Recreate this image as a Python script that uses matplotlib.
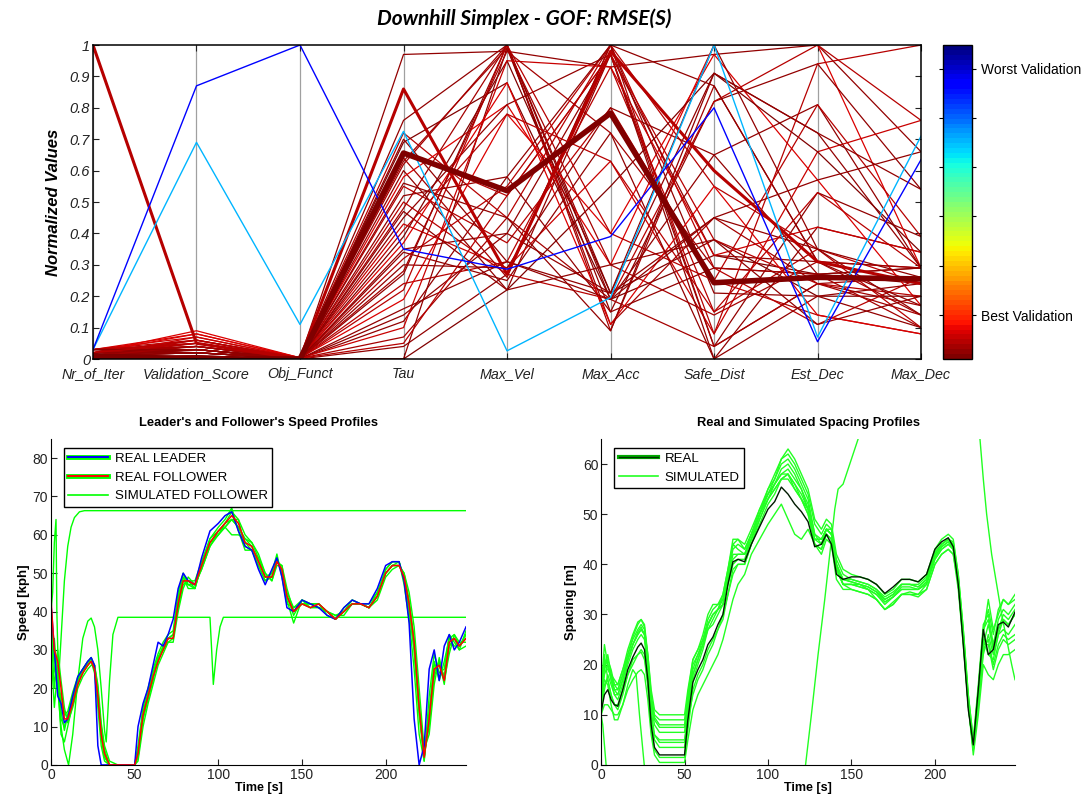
import numpy as np
import matplotlib
matplotlib.use("Agg")
import matplotlib.pyplot as plt
from matplotlib.colors import ListedColormap, Normalize
from matplotlib.lines import Line2D
from matplotlib.legend_handler import HandlerTuple
import matplotlib as mpl

plt.rcParams['font.family'] = ['Liberation Sans', 'DejaVu Sans']

# ---------------- top panel: parallel coordinates ----------------
axis_names = ["Nr_of_Iter", "Validation_Score", "Obj_Funct", "Tau", "Max_Vel",
              "Max_Acc", "Safe_Dist", "Est_Dec", "Max_Dec"]

# each row: Nr_of_Iter, Validation_Score, Obj_Funct, Tau, Max_Vel, Max_Acc, Safe_Dist, Est_Dec, Max_Dec
runs_red = [
    [0.02, 0.03, 0.002, 0.97, 0.98, 0.93, 0.97, 1.00, 0.66],
    [0.01, 0.02, 0.001, 0.76, 1.00, 0.21, 0.91, 0.72, 0.29],
    [0.03, 0.06, 0.003, 0.72, 0.45, 1.00, 0.55, 0.35, 0.10],
    [0.00, 0.01, 0.000, 0.69, 0.88, 0.19, 0.33, 0.27, 0.24],
    [0.02, 0.04, 0.002, 0.62, 1.00, 0.09, 0.87, 0.31, 0.14],
    [0.01, 0.03, 0.001, 0.60, 0.22, 0.97, 0.04, 0.53, 0.39],
    [0.03, 0.08, 0.004, 0.58, 0.81, 0.30, 1.00, 1.00, 0.29],
    [0.02, 0.05, 0.002, 0.55, 0.37, 0.80, 0.25, 0.14, 0.08],
    [0.01, 0.02, 0.001, 0.52, 0.58, 0.15, 0.82, 0.94, 0.54],
    [0.02, 0.04, 0.001, 0.48, 1.00, 0.11, 0.45, 0.24, 0.17],
    [0.03, 0.07, 0.003, 0.43, 0.29, 0.63, 0.08, 0.66, 0.76],
    [0.01, 0.01, 0.000, 0.39, 0.95, 0.21, 0.38, 0.20, 0.20],
    [0.02, 0.03, 0.001, 0.34, 0.25, 0.72, 0.00, 0.42, 0.34],
    [0.02, 0.06, 0.002, 0.32, 0.55, 1.00, 0.29, 0.11, 0.26],
    [0.01, 0.02, 0.001, 0.27, 1.00, 0.19, 0.65, 0.81, 0.29],
    [0.03, 0.05, 0.002, 0.24, 0.31, 0.93, 0.15, 0.35, 0.24],
    [0.02, 0.09, 0.004, 0.19, 0.78, 0.40, 0.97, 0.57, 0.17],
    [0.01, 0.03, 0.001, 0.14, 0.40, 0.97, 0.33, 0.31, 0.29],
    [0.02, 0.04, 0.002, 0.07, 0.45, 0.19, 0.04, 0.24, 0.14],
    [0.03, 0.02, 0.000, 0.04, 0.27, 1.00, 0.21, 0.20, 0.10],
    [0.00, 0.01, 0.000, 0.00, 0.22, 0.55, 0.91, 0.66, 0.34],
    [0.02, 0.03, 0.001, 0.00, 0.99, 0.15, 0.29, 0.27, 0.29],
    [0.01, 0.05, 0.002, 0.66, 0.52, 0.97, 0.38, 0.24, 0.20],
    [0.02, 0.02, 0.001, 0.70, 0.31, 0.21, 0.45, 0.35, 0.26],
    [0.03, 0.04, 0.002, 0.63, 0.99, 0.30, 0.14, 0.31, 0.29],
    [0.01, 0.06, 0.003, 0.50, 0.27, 0.19, 0.82, 1.00, 0.76],
    [0.02, 0.03, 0.001, 0.45, 0.81, 0.97, 0.00, 0.20, 0.24],
    [0.02, 0.08, 0.004, 0.37, 0.88, 0.11, 0.55, 0.14, 0.08],
    [0.01, 0.02, 0.001, 0.30, 0.29, 0.80, 0.65, 0.27, 0.29],
    [0.03, 0.05, 0.002, 0.22, 1.00, 0.40, 0.25, 0.81, 0.39],
    [0.02, 0.03, 0.001, 0.12, 0.58, 1.00, 0.87, 0.31, 0.17],
    [0.01, 0.07, 0.003, 0.10, 0.95, 0.93, 0.33, 0.42, 0.34],
    [0.02, 0.04, 0.002, 0.64, 0.26, 1.00, 0.04, 0.24, 0.26],
    [0.03, 0.02, 0.001, 0.56, 0.45, 0.09, 0.91, 0.72, 0.54],
    [0.01, 0.03, 0.001, 0.47, 0.22, 0.30, 0.38, 0.11, 0.20],
    [0.02, 0.06, 0.002, 0.41, 0.78, 0.63, 0.15, 0.53, 0.29],
    [0.02, 0.02, 0.001, 0.35, 0.40, 0.21, 1.00, 0.35, 0.14],
    [0.01, 0.04, 0.002, 0.28, 0.98, 0.72, 0.29, 0.27, 0.10],
    [0.03, 0.03, 0.001, 0.16, 0.31, 0.19, 0.45, 0.57, 0.66],
    [0.02, 0.05, 0.002, 0.05, 0.52, 0.97, 0.08, 0.94, 1.00],
]
run_max_iter = [1.00, 0.05, 0.001, 0.86, 0.27, 0.98, 0.60, 0.31, 0.24]
run_cyan = [0.03, 0.69, 0.11, 0.725, 0.026, 0.196, 1.00, 0.07, 0.71]
run_blue = [0.03, 0.87, 1.00, 0.35, 0.286, 0.39, 0.80, 0.055, 0.635]
run_best = [0.01, 0.00, 0.00, 0.656, 0.536, 0.783, 0.243, 0.26, 0.255]

cb_ticks = [0.14, 0.297, 0.454, 0.611, 0.768, 0.924]
cb_labels = ["Best Validation", "", "", "", "", "Worst Validation"]

# ---------------- bottom panels ----------------
t = [0, 2, 4, 6, 8, 10, 13, 16, 19, 22, 24, 26, 28, 30, 32, 35, 40, 45, 50, 52,
     55, 58, 61, 64, 67, 70, 73, 76, 79, 82, 86, 90, 95, 100, 104, 108, 112, 116, 120, 124,
     128, 132, 135, 138, 141, 145, 150, 155, 160, 165, 170, 175, 180, 185, 190, 195, 200, 204, 208, 211,
     214, 217, 220, 223, 226, 229, 232, 235, 238, 241, 244, 248]

leader_speed = [42, 30, 18, 16, 11, 12, 18, 23, 25, 27, 28, 26, 5, 0, 0, 0, 0, 0, 0, 10,
                16, 20, 26, 32, 31, 34, 38, 46, 50, 48, 47, 54, 61, 63, 65, 66, 61, 57, 56, 51,
                47, 51, 54, 49, 41, 40, 43, 42, 41, 39, 38, 41, 43, 42, 42, 46, 52, 53, 53, 48,
                37, 12, 0, 5, 25, 30, 22, 31, 34, 30, 32, 36]
follower_speed = [43, 30, 27, 20, 12, 12, 16, 21, 24, 26, 27, 25, 18, 8, 3, 0, 0, 0, 0, 3,
                  13, 18, 23, 27, 30, 33, 33, 42, 48, 48, 47, 52, 58, 61, 63, 65, 63, 58, 57, 53,
                  49, 49, 53, 51, 44, 40, 42, 41, 42, 40, 38, 40, 42, 42, 41, 44, 50, 52, 52, 49,
                  42, 32, 15, 2, 12, 25, 26, 22, 32, 33, 31, 33]
sim_speed = [
    [40, 25, 20, 18, 13, 14, 19, 23, 25, 27, 27, 24, 15, 5, 1, 0, 0, 0, 0, 5,
     15, 20, 25, 29, 32, 34, 35, 45, 50, 47, 46, 53, 59, 62, 64, 67, 61, 56, 56, 52,
     48, 50, 55, 49, 42, 41, 43, 42, 42, 40, 38, 41, 43, 42, 42, 45, 51, 53, 53, 47,
     38, 25, 8, 1, 18, 29, 24, 25, 34, 32, 30, 35],
    [35, 20, 30, 22, 15, 11, 15, 20, 23, 25, 26, 26, 21, 11, 5, 1, 0, 0, 0, 1,
     10, 16, 21, 26, 29, 32, 32, 40, 46, 49, 47, 51, 57, 60, 62, 64, 64, 60, 58, 55,
     50, 48, 52, 52, 46, 40, 42, 41, 41, 40, 39, 39, 42, 42, 41, 43, 49, 51, 52, 50,
     45, 36, 20, 4, 8, 21, 28, 22, 29, 34, 32, 32],
    [30, 15, 25, 12, 10, 13, 17, 22, 24, 26, 28, 25, 17, 7, 2, 0, 0, 0, 0, 4,
     14, 19, 24, 28, 31, 33, 34, 43, 49, 46, 46, 52, 59, 61, 62, 60, 60, 59, 57, 53,
     49, 50, 54, 50, 43, 37, 43, 42, 41, 40, 38, 40, 43, 42, 41, 44, 50, 52, 53, 49,
     41, 30, 13, 1, 14, 27, 22, 27, 33, 31, 31, 34],
    [28, 33, 22, 8, 6, 10, 16, 21, 24, 27, 27, 26, 20, 9, 3, 0, 0, 0, 0, 2,
     12, 17, 22, 28, 30, 32, 33, 41, 47, 48, 48, 53, 58, 60, 63, 66, 64, 57, 56, 54,
     49, 49, 53, 51, 45, 41, 42, 42, 42, 40, 38, 40, 42, 42, 41, 44, 50, 52, 52, 50,
     43, 33, 16, 3, 10, 23, 27, 21, 31, 33, 30, 31],
    [38, 28, 24, 16, 14, 12, 17, 22, 25, 26, 27, 25, 19, 10, 4, 0, 0, 0, 0, 2,
     12, 18, 23, 27, 31, 33, 33, 44, 49, 48, 46, 52, 58, 60, 62, 64, 62, 59, 58, 54,
     50, 48, 53, 52, 44, 39, 43, 41, 42, 39, 38, 40, 42, 42, 41, 44, 51, 53, 53, 48,
     40, 30, 14, 2, 12, 24, 27, 23, 33, 34, 31, 34],
    [25, 22, 26, 14, 9, 13, 18, 22, 25, 27, 28, 26, 19, 8, 2, 0, 0, 0, 0, 3,
     14, 18, 24, 28, 30, 33, 34, 42, 48, 47, 47, 51, 57, 61, 63, 64, 62, 58, 56, 52,
     48, 49, 54, 50, 44, 40, 42, 42, 41, 40, 39, 40, 42, 42, 41, 45, 50, 52, 52, 49,
     42, 31, 15, 2, 13, 26, 26, 22, 31, 33, 31, 33],
]
# two runs that drift away from the others
odd_a_t = [0, 1, 2, 3, 3.5, 4.5, 6, 8, 10, 12, 14, 17, 20, 248]
odd_a_v = [40, 45, 58, 64, 40, 22, 33, 48, 57, 62, 64.5, 66, 66.3, 66.3]
odd_b_t = [0, 2, 4, 6, 8, 10.5, 13, 16, 19, 22, 24, 26, 28, 30, 32, 33, 35, 37, 40,
           95, 96, 97, 99, 101, 103, 248]
odd_b_v = [38, 30, 20, 10, 4, 0, 8, 22, 33, 37.5, 38.3, 36, 30, 20, 9, 6, 22, 34, 38.5,
           38.5, 30, 21, 30, 36, 38.5, 38.5]

real_spacing = [10.5, 14, 15, 13, 12, 11.7, 15, 19, 21.5, 23.5, 24.3, 23, 17, 8, 3.5, 2, 2, 2, 2, 9,
                16.5, 19, 21, 24, 25.5, 28, 30, 36, 40.5, 41, 40.5, 44, 47.5, 51, 52.5, 55.4, 54, 52, 50.5, 48.5,
                43.5, 44, 46, 44, 38, 37, 37.5, 37.5, 37, 36, 34.2, 35.5, 37, 37, 36.5, 38, 43, 44.5, 45.3, 43.5,
                36, 24, 11, 4, 15, 27, 22, 23, 28, 28.5, 27.5, 30.5]
sim_spacing = [
    [10, 12, 12, 11, 10, 10, 12, 15, 17, 18.5, 19, 18, 13, 6, 2, 0.5, 0.5, 0.5, 0.5, 5,
     11, 14, 16, 18, 20, 22, 25, 29, 33, 36, 38, 42, 45, 48, 50, 52, 49, 46, 45, 47,
     44, 42, 45, 44, 37, 35, 35, 34.5, 34, 33, 31, 32.5, 34, 34, 34, 35, 40, 42, 43, 42,
     35, 24, 12, 2, 10, 20, 18, 17, 20, 22, 22, 23],
    [12, 18, 20, 17, 14, 13, 16, 20, 23, 25, 26, 25, 19, 10, 5, 3.5, 3.5, 3.5, 3.5, 10,
     17, 20, 23, 27, 28, 30, 32, 38, 43, 44, 43, 46, 50, 54, 56, 58, 59, 57, 55, 52,
     46, 45, 47, 46, 40, 37, 36.5, 36, 35.5, 34.5, 33, 34, 36, 36, 35.5, 37, 42, 44, 45, 44,
     37, 25, 12, 4, 14, 25, 22, 21, 26, 27, 26, 28],
    [9, 22, 17, 14, 12, 12, 15, 18, 21, 22, 22.5, 21, 16, 9, 6, 5, 5, 5, 5, 9,
     14, 17, 19, 22, 24, 27, 30, 34, 38, 40, 40, 44, 49, 53, 56, 59, 60, 58, 55, 51,
     44, 43, 46, 45, 39, 36, 36, 35.5, 35, 34, 32, 33.5, 35, 35, 35, 36, 41, 43, 44, 43,
     36, 25, 13, 3, 12, 23, 25, 20, 24, 26, 25, 26],
    [11, 15, 18, 16, 14, 14, 17, 21, 24, 26.5, 27.5, 26, 20, 12, 8, 6.5, 6.5, 6.5, 6.5, 12,
     18, 21, 24, 28, 30, 31, 34, 39, 44, 43, 42, 46, 51, 55, 57, 60, 61, 59, 56, 53,
     46, 44, 47, 47, 41, 38, 37, 36.5, 36, 35, 33.5, 34.5, 36, 36, 36, 37.5, 42.5, 44, 45, 44.5,
     38, 27, 14, 5, 16, 28, 30, 24, 29, 31, 30, 32],
    [14, 20, 21, 19, 16, 15, 18, 22, 25.5, 28, 29, 27.5, 21, 13, 9.5, 8, 8, 8, 8, 13,
     20, 22, 25, 29, 31, 32, 33, 37, 42, 42, 42, 45, 50, 54, 57, 61, 62, 60, 57, 54,
     48, 46, 48, 47, 40, 36, 36, 36, 35, 33, 31, 32, 34, 34.5, 34, 36, 41, 43, 44, 43,
     37, 26, 13, 4, 13, 24, 28, 23, 27, 30, 29, 31],
    [17, 20, 19, 18, 17, 16, 19, 22, 25, 27, 28, 27, 22, 15, 11, 10, 10, 10, 10, 15,
     21, 23, 25, 28, 30, 31, 33, 38, 44, 45, 44, 47, 51, 54, 56, 58, 58, 56, 54, 51,
     45, 45, 47, 46, 39, 37, 37, 36.5, 36, 35, 33, 34, 36, 36, 35.5, 37, 42, 44, 45, 44,
     37, 26, 12, 3, 14, 26, 33, 27, 30, 33, 32, 34],
    [11, 16, 17, 14, 12, 11, 14, 18, 20, 22, 23, 22, 16, 7, 3, 1.5, 1.5, 1.5, 1.5, 7,
     15, 18, 20, 23, 25, 27, 29, 34, 39, 40, 40, 44, 48, 52, 54, 57, 58, 55, 53, 50,
     44, 43, 46, 45, 39, 36, 36, 35.5, 35, 34, 32.5, 33.5, 35, 35, 35, 36.5, 41.5, 43.5, 44.5, 43,
     36, 25, 12, 3, 13, 24, 24, 19, 23, 25, 24, 25],
    [13, 19, 22, 18, 15, 14, 17, 21, 24, 26, 27, 26, 20, 11, 6, 4.5, 4.5, 4.5, 4.5, 11,
     18, 21, 24, 27, 29, 31, 32, 37, 41, 42, 42, 45, 49, 53, 55, 57, 58, 56, 53, 51,
     45, 45, 47, 46, 40, 37, 36.5, 36, 35.5, 34.5, 32.5, 33.5, 35.5, 35.5, 35, 36.5, 41.5, 43.5, 44.5, 43.5,
     37, 26, 13, 4, 15, 27, 29, 23, 27, 29, 28, 30],
    [15, 24, 20, 17, 15, 15, 18, 21, 24, 26, 27, 26, 21, 13, 9, 7.5, 7.5, 7.5, 7.5, 13,
     19, 22, 24, 28, 30, 31, 32, 36, 40, 41, 41, 45, 50, 55, 58, 61, 63, 61, 58, 55,
     49, 47, 49, 48, 42, 39, 38, 37.5, 37, 36, 34, 35, 37, 37, 36.5, 38, 43, 45, 46, 45,
     38, 27, 14, 5, 15, 27, 31, 26, 31, 33, 32, 33],
    [16, 21, 20, 18, 16, 16, 19, 23, 26, 28.5, 29, 28, 22, 14, 10, 9, 9, 9, 9, 14,
     21, 23, 26, 30, 32, 32, 34, 39, 45, 45, 43, 46, 50, 53, 55, 57, 57, 55, 53, 50,
     45, 44, 47, 46, 39, 36, 35, 34.5, 34, 33, 31, 32, 34, 34, 33.5, 35, 40, 42, 43, 42,
     36, 25, 12, 3, 12, 22, 26, 22, 26, 29, 28, 30],
]
odd_s1_t = [0, 1, 2, 3, 4]
odd_s1_v = [10, 8, 4, 0, -4]
odd_s2_t = [0, 2, 4, 6, 8, 10, 13, 16, 19, 21, 23, 25, 27]
odd_s2_v = [13, 17, 16, 12, 9, 9, 12, 16, 19, 18, 10, 3, -4]
odd_s3_t = [120, 122.5, 126, 130, 134, 137, 140, 142, 145, 150, 154, 156]
odd_s3_v = [-5, 0, 10, 22, 33, 42, 51, 55, 56, 61, 65, 68]
odd_s4_t = [226, 227, 229, 231, 234, 237, 240, 243, 246, 248]
odd_s4_v = [70, 65, 57, 50, 42, 36, 30, 25, 20, 17]

# ---------------- figure ----------------
fig = plt.figure(figsize=(10.85, 8.01), dpi=100)
fig.text(0.483, 0.977, "Downhill Simplex - GOF: RMSE(S)", family=['Lato', 'DejaVu Sans'],
         weight='bold', style='italic', size=15, ha='center', va='center')

jet = ListedColormap(plt.cm.jet(np.linspace(0, 1, 64))[::-1])
xpos = np.arange(1, len(axis_names) + 1)

ax = fig.add_axes([0.0857, 0.5518, 0.7632, 0.392])
for r in runs_red:
    ax.plot(xpos, r, color=jet(r[1]), lw=0.9)
ax.plot(xpos, run_max_iter, color=jet(run_max_iter[1]), lw=2.2)
ax.plot(xpos, run_cyan, color=jet(run_cyan[1]), lw=1.0)
ax.plot(xpos, run_blue, color=jet(run_blue[1]), lw=1.0)
ax.plot(xpos, run_best, color=jet(run_best[1]), lw=4)
ax.set_xlim(1, len(axis_names))
ax.set_ylim(0, 1)
ax.set_xticks(xpos)
ax.set_xticklabels(axis_names, fontstyle='italic', fontsize=10.3)
yt = np.arange(0, 1.01, 0.1)
ax.set_yticks(yt)
ax.set_yticklabels(["0"] + ["%.1f" % v for v in yt[1:-1]] + ["1"], fontstyle='italic', fontsize=10.5)
ax.grid(axis='x', color='#a0a0a0', lw=0.9)
ax.tick_params(direction='in', top=True, right=True, length=4, pad=2, colors='#222222')
ax.tick_params(axis='x', pad=6)
ax.set_ylabel("Normalized Values", fontsize=12, weight='bold', style='italic', labelpad=6)
for s in ax.spines.values():
    s.set_linewidth(1.1)

cax = fig.add_axes([0.869, 0.5518, 0.027, 0.392])
cb = mpl.colorbar.ColorbarBase(cax, cmap=jet, norm=Normalize(0, 1))
cb.set_ticks(cb_ticks)
cb.set_ticklabels(cb_labels)
cb.outline.set_linewidth(1)
cax.tick_params(left=True, right=True, direction='out', length=3, labelsize=10, width=0.8)

# speed profiles
ax1 = fig.add_axes([0.047, 0.045, 0.3825, 0.407])
for s in sim_speed:
    ax1.plot(t, s, color='#00ff00', lw=1.0)
ax1.plot(odd_a_t, odd_a_v, color='#00ff00', lw=1.0)
ax1.plot(odd_b_t, odd_b_v, color='#00ff00', lw=1.0)
ax1.plot(t, leader_speed, color='#0000ff', lw=1.1)
ax1.plot(t, follower_speed, color='#ff0000', lw=1.1)
ax1.set_xlim(0, 248)
ax1.set_ylim(0, 85)
ax1.set_xticks([0, 50, 100, 150, 200])
ax1.set_yticks(np.arange(0, 81, 10))
ax1.set_title("Leader's and Follower's Speed Profiles", fontsize=9.3, weight='bold', pad=9)
ax1.set_xlabel("Time [s]", fontsize=9, weight='bold', labelpad=0)
ax1.set_ylabel("Speed [kph]", fontsize=9.5, weight='bold', labelpad=2)
h1 = [(Line2D([], [], color='#00ff00', lw=3.5), Line2D([], [], color='#0000ff', lw=1.4)),
      (Line2D([], [], color='#00ff00', lw=3.5), Line2D([], [], color='#ff0000', lw=1.4)),
      Line2D([], [], color='#00ff00', lw=1.2)]
ax1.legend(h1, ["REAL LEADER", "REAL FOLLOWER", "SIMULATED FOLLOWER"],
           handler_map={tuple: HandlerTuple(ndivide=1)}, loc='upper left',
           bbox_to_anchor=(0.015, 0.993), fontsize=9.5, fancybox=False, framealpha=1,
           edgecolor='black', handlelength=3.0, handletextpad=0.5, borderpad=0.35,
           labelspacing=0.5)

# spacing profiles
ax2 = fig.add_axes([0.554, 0.045, 0.3815, 0.407])
for s in sim_spacing:
    ax2.plot(t, s, color='#22ff22', lw=1.0)
for ot, ov in [(odd_s1_t, odd_s1_v), (odd_s2_t, odd_s2_v), (odd_s3_t, odd_s3_v), (odd_s4_t, odd_s4_v)]:
    ax2.plot(ot, ov, color='#22ff22', lw=1.0)
ax2.plot(t, real_spacing, color='#001a00', lw=1.0)
ax2.set_xlim(0, 248)
ax2.set_ylim(0, 65)
ax2.set_xticks([0, 50, 100, 150, 200])
ax2.set_yticks(np.arange(0, 61, 10))
ax2.set_title("Real and Simulated Spacing Profiles", fontsize=9.3, weight='bold', pad=9)
ax2.set_xlabel("Time [s]", fontsize=9, weight='bold', labelpad=0)
ax2.set_ylabel("Spacing [m]", fontsize=9.5, weight='bold', labelpad=4)
h2 = [(Line2D([], [], color='#00aa00', lw=3), Line2D([], [], color='#003300', lw=1)),
      Line2D([], [], color='#22ff22', lw=1.2)]
ax2.legend(h2, ["REAL", "SIMULATED"], handler_map={tuple: HandlerTuple(ndivide=1)},
           loc='upper left', bbox_to_anchor=(0.015, 0.993), fontsize=9.5, fancybox=False,
           framealpha=1, edgecolor='black', handlelength=3.0, handletextpad=0.5,
           borderpad=0.35, labelspacing=0.5)

for a in (ax1, ax2):
    a.spines['top'].set_visible(False)
    a.spines['right'].set_visible(False)
    a.tick_params(direction='in', length=4, labelsize=10, pad=2, colors='#222222')

fig.savefig("out.png", dpi=100)
